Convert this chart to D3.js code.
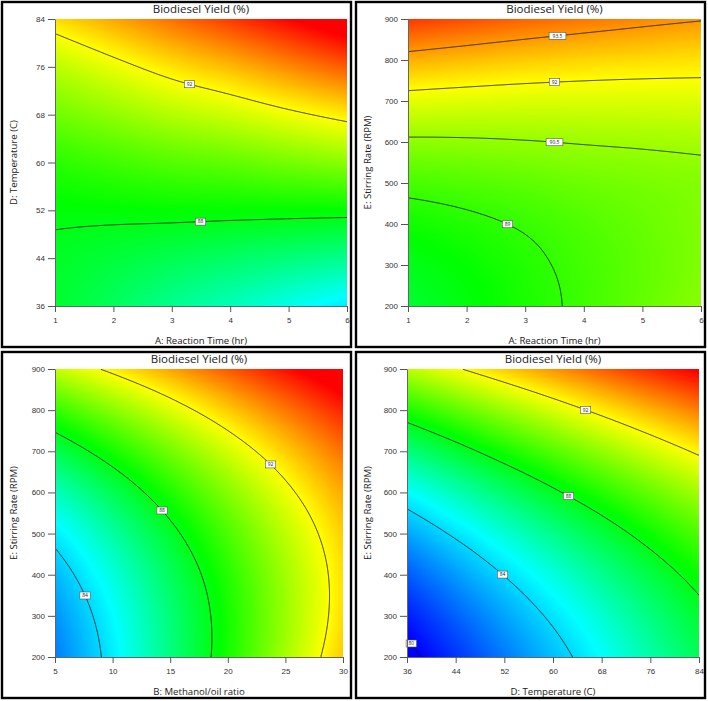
<!DOCTYPE html>
<html lang="en">
<head>
<meta charset="utf-8">
<title>Biodiesel Yield contour plots</title>
<script src="https://cdn.jsdelivr.net/npm/d3@7"></script>
<style>
  body { margin: 0; background: #fff; }
  svg { display: block; font-family: "Open Sans", sans-serif; }
  .tick text { font-size: 8px; fill: #333; }
  .tick line { stroke: #555; }
  .domain { stroke: #666; }
  .frame { fill: none; stroke: #000; stroke-width: 2.4; }
  .contour { fill: none; stroke: #1a1a1a; stroke-width: 0.9; }
  .clabel rect { fill: #fff; stroke: #555; stroke-width: 0.6; }
  .clabel text { font-size: 5px; fill: #222; text-anchor: middle; }
</style>
</head>
<body>
<script>
const w = 708, h = 701;
const title = "Biodiesel Yield (%)";

// factor ticks
const timeTicks = [1, 2, 3, 4, 5, 6];
const tempTicks = [36, 44, 52, 60, 68, 76, 84];
const rpmTicks = [200, 300, 400, 500, 600, 700, 800, 900];
const ratioTicks = [5, 10, 15, 20, 25, 30];

// colour key of the yield
const yieldDomain = [80, 84.7, 88.3, 92, 95.7];
const yieldColors = ["#0000ff", "#00ffff", "#00ff00", "#ffff00", "#ff0000"];

// yield read at the tick grid, rows = y ticks (bottom to top), cols = x ticks
const yieldTimeTemp = [
  [87.7, 87.0, 86.3, 85.7, 85.0, 84.3],
  [87.8, 87.5, 87.2, 86.9, 86.6, 86.3],
  [88.2, 88.25, 88.3, 88.3, 88.3, 88.3],
  [88.9, 89.2, 89.5, 89.7, 90.0, 90.3],
  [89.9, 90.4, 90.9, 91.3, 91.8, 92.3],
  [91.0, 91.7, 92.4, 93.0, 93.7, 94.4],
  [92.5, 93.3, 94.1, 94.9, 95.7, 96.5]
];
const yieldTimeRpm = [
  [87.62, 88.13, 88.66, 89.20, 89.75, 90.30],
  [87.95, 88.35, 88.79, 89.26, 89.70, 90.15],
  [88.51, 88.79, 89.10, 89.45, 89.80, 90.15],
  [89.32, 89.47, 89.66, 89.88, 90.05, 90.20],
  [90.36, 90.39, 90.46, 90.55, 90.62, 90.70],
  [91.64, 91.55, 91.49, 91.47, 91.47, 91.51],
  [93.16, 92.95, 92.76, 92.61, 92.50, 92.41],
  [94.93, 94.59, 94.28, 94.01, 93.76, 93.56]
];
const yieldRatioRpm = [
  [82.31, 84.41, 86.51, 88.61, 90.71, 92.81],
  [82.71, 84.67, 86.62, 88.58, 90.54, 92.49],
  [83.40, 85.21, 87.02, 88.83, 90.65, 92.46],
  [84.37, 86.04, 87.71, 89.38, 91.05, 92.72],
  [85.64, 87.16, 88.69, 90.21, 91.74, 93.26],
  [87.19, 88.57, 89.95, 91.33, 92.71, 94.09],
  [89.02, 90.26, 91.49, 92.73, 93.97, 95.21],
  [91.15, 92.24, 93.33, 94.43, 95.52, 96.62]
];
const yieldTempRpm = [
  [79.61, 80.94, 82.24, 83.50, 84.74, 85.95, 87.12],
  [80.52, 81.78, 83.02, 84.22, 85.39, 86.54, 87.65],
  [81.66, 82.86, 84.04, 85.18, 86.29, 87.37, 88.41],
  [83.05, 84.19, 85.30, 86.38, 87.42, 88.44, 89.42],
  [84.68, 85.76, 86.80, 87.82, 88.80, 89.75, 90.67],
  [86.55, 87.56, 88.55, 89.50, 90.42, 91.31, 92.16],
  [88.65, 89.60, 90.52, 91.41, 92.27, 93.10, 93.89],
  [91.00, 91.89, 92.75, 93.57, 94.36, 95.13, 95.86]
];

// contour levels and where along x their flags sit
const levelsTimeTemp = [88, 92];
const flagsTimeTemp = [3.5, 3.3];
const levelsTimeRpm = [89, 90.5, 92, 93.5];
const flagsTimeRpm = [2.7, 3.5, 3.5, 3.55];
const levelsRatioRpm = [84, 88, 92];
const flagsRatioRpm = [7.6, 14.3, 23.7];
const levelsTempRpm = [80, 84, 88, 92];
const flagsTempRpm = [36.7, 51.7, 62.5, 65.4];

const panels = [
  { frame: [2, 2, 349, 345], plot: [55, 19, 347, 306], xs: timeTicks, ys: tempTicks, z: yieldTimeTemp,
    levels: levelsTimeTemp, flags: flagsTimeTemp, xTitle: "A: Reaction Time (hr)", yTitle: "D: Temperature (C)" },
  { frame: [356, 2, 349, 345], plot: [408, 19, 701, 306], xs: timeTicks, ys: rpmTicks, z: yieldTimeRpm,
    levels: levelsTimeRpm, flags: flagsTimeRpm, xTitle: "A: Reaction Time (hr)", yTitle: "E: Stirring Rate (RPM)" },
  { frame: [2, 352, 349, 346], plot: [55, 369, 343, 657], xs: ratioTicks, ys: rpmTicks, z: yieldRatioRpm,
    levels: levelsRatioRpm, flags: flagsRatioRpm, xTitle: "B: Methanol/oil ratio", yTitle: "E: Stirring Rate (RPM)" },
  { frame: [356, 352, 349, 346], plot: [407, 369, 699, 657], xs: tempTicks, ys: rpmTicks, z: yieldTempRpm,
    levels: levelsTempRpm, flags: flagsTempRpm, xTitle: "D: Temperature (C)", yTitle: "E: Stirring Rate (RPM)" }
];

const yieldColor = d3.scaleLinear().domain(yieldDomain).range(yieldColors).clamp(true);
const vLo = yieldDomain[0], vHi = yieldDomain[yieldDomain.length - 1];
const lut = d3.range(512).map(i => d3.rgb(yieldColor(vLo + i / 511 * (vHi - vLo))));

// smooth surface through the tick grid (Catmull-Rom)
function surface(xs, ys, z) {
  const nx = xs.length, ny = ys.length;
  const at = (i, j) => {
    if (i < 0) return 3 * at(0, j) - 3 * at(1, j) + at(2, j);
    if (i >= nx) return 3 * at(nx - 1, j) - 3 * at(nx - 2, j) + at(nx - 3, j);
    if (j < 0) return 3 * at(i, 0) - 3 * at(i, 1) + at(i, 2);
    if (j >= ny) return 3 * at(i, ny - 1) - 3 * at(i, ny - 2) + at(i, ny - 3);
    return z[j][i];
  };
  const cr = (p0, p1, p2, p3, t) =>
    0.5 * (2 * p1 + (p2 - p0) * t + (2 * p0 - 5 * p1 + 4 * p2 - p3) * t * t + (3 * p1 - p0 - 3 * p2 + p3) * t * t * t);
  return (x, y) => {
    const gx = (x - xs[0]) / (xs[1] - xs[0]), gy = (y - ys[0]) / (ys[1] - ys[0]);
    const i = Math.min(nx - 2, Math.max(0, Math.floor(gx)));
    const j = Math.min(ny - 2, Math.max(0, Math.floor(gy)));
    const tx = gx - i, ty = gy - j;
    const r = [-1, 0, 1, 2].map(k => cr(at(i - 1, j + k), at(i, j + k), at(i + 1, j + k), at(i + 2, j + k), tx));
    return cr(r[0], r[1], r[2], r[3], ty);
  };
}

// cut a contour ring into the pieces that are not on the plot edge
function openRuns(ring, W, H) {
  const onEdge = p => p[0] <= 0 || p[0] >= W || p[1] <= 0 || p[1] >= H;
  const n = ring.length - 1;
  const pts = ring.slice(0, n);
  const start = pts.findIndex(onEdge);
  if (start < 0) return [ring];
  const runs = [];
  let cur = null, prev = pts[start];
  for (let k = 1; k <= n; k++) {
    const p = pts[(start + k) % n];
    if (onEdge(p)) {
      if (cur) { cur.push(p); runs.push(cur); cur = null; }
      prev = p;
    } else {
      if (!cur) cur = [prev];
      cur.push(p);
    }
  }
  return runs;
}

const svg = d3.select("body").append("svg").attr("width", w).attr("height", h);

panels.forEach((p, pi) => {
  const [x0, y0, x1, y1] = p.plot;
  const W = Math.round(x1 - x0), H = Math.round(y1 - y0);
  const xScale = d3.scaleLinear().domain(d3.extent(p.xs)).range([x0, x1]);
  const yScale = d3.scaleLinear().domain(d3.extent(p.ys)).range([y1, y0]);
  const f = surface(p.xs, p.ys, p.z);

  const canvas = document.createElement("canvas");
  canvas.width = W; canvas.height = H;
  const ctx = canvas.getContext("2d");
  const img = ctx.createImageData(W, H);
  const values = new Float64Array(W * H);
  for (let j = 0; j < H; j++) {
    const yv = yScale.invert(y0 + j + 0.5);
    for (let i = 0; i < W; i++) {
      const v = f(xScale.invert(x0 + i + 0.5), yv);
      values[j * W + i] = v;
      const c = lut[Math.max(0, Math.min(511, Math.round((v - vLo) / (vHi - vLo) * 511)))];
      const k = 4 * (j * W + i);
      img.data[k] = c.r; img.data[k + 1] = c.g; img.data[k + 2] = c.b; img.data[k + 3] = 255;
    }
  }
  ctx.putImageData(img, 0, 0);

  const g = svg.append("g");
  g.append("image").attr("x", x0).attr("y", y0).attr("width", W).attr("height", H)
    .attr("preserveAspectRatio", "none").attr("href", canvas.toDataURL());

  g.append("clipPath").attr("id", "clip" + pi).append("rect")
    .attr("x", x0).attr("y", y0).attr("width", W).attr("height", H);

  const line = d3.line().x(d => x0 + d[0]).y(d => y0 + d[1]);
  const cont = d3.contours().size([W, H]).thresholds(p.levels)(values);
  const flagPts = [];
  cont.forEach((c, li) => {
    const runs = [];
    c.coordinates.forEach(poly => poly.forEach(ring => runs.push(...openRuns(ring, W, H))));
    g.append("g").attr("clip-path", `url(#clip${pi})`).selectAll("path").data(runs).join("path")
      .attr("class", "contour").attr("d", line);
    const tx = xScale(p.flags[li]) - x0;
    let best = null;
    runs.forEach(r => r.forEach(pt => {
      if (!best || Math.abs(pt[0] - tx) < Math.abs(best[0] - tx)) best = pt;
    }));
    if (best) flagPts.push({ x: x0 + best[0], y: y0 + best[1], text: String(p.levels[li]) });
  });

  const flag = g.selectAll(".clabel").data(flagPts).join("g").attr("class", "clabel")
    .attr("transform", d => `translate(${d.x},${d.y})`);
  flag.append("rect").attr("x", d => -(d.text.length * 1.6 + 2)).attr("y", -3.5)
    .attr("width", d => d.text.length * 3.2 + 4).attr("height", 7);
  flag.append("text").attr("y", 1.8).text(d => d.text);

  g.append("g").attr("transform", `translate(${x0},0)`)
    .call(d3.axisLeft(yScale).tickValues(p.ys).tickSize(7).tickSizeOuter(0).tickPadding(3).tickFormat(d3.format("d")));
  g.append("g").attr("transform", `translate(0,${y1})`)
    .call(d3.axisBottom(xScale).tickValues(p.xs).tickSize(6).tickSizeOuter(0).tickPadding(5).tickFormat(d3.format("d")));

  g.append("text").attr("x", (x0 + x1) / 2).attr("y", y0 - 6)
    .attr("text-anchor", "middle").style("font-size", "11.5px").attr("fill", "#222").text(title);
  g.append("text").attr("x", (x0 + x1) / 2).attr("y", p.frame[1] + p.frame[3] - 3)
    .attr("text-anchor", "middle").style("font-size", "9.6px").attr("fill", "#222").text(p.xTitle);
  g.append("text").attr("transform", `translate(${p.frame[0] + 15},${(y0 + y1) / 2}) rotate(-90)`)
    .attr("text-anchor", "middle").style("font-size", "9.6px").attr("fill", "#222").text(p.yTitle);

  svg.append("rect").attr("class", "frame")
    .attr("x", p.frame[0]).attr("y", p.frame[1]).attr("width", p.frame[2]).attr("height", p.frame[3]);
});
</script>
</body>
</html>
